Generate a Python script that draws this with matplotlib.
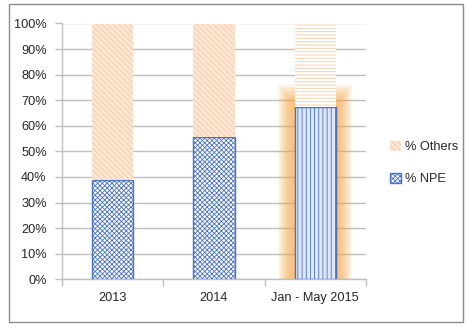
import matplotlib
matplotlib.use("Agg")
import matplotlib.pyplot as plt
from matplotlib.patches import Rectangle
import numpy as np

categories = ["2013", "2014", "Jan - May 2015"]
npe_share = [38.8, 55.6, 67.5]
others_share = [100 - v for v in npe_share]
yticks = [0, 10, 20, 30, 40, 50, 60, 70, 80, 90, 100]
ytick_labels = [f"{t}%" for t in yticks]

plt.rcParams["font.family"] = ["Liberation Sans Narrow", "Liberation Sans", "DejaVu Sans"]
plt.rcParams["hatch.linewidth"] = 0.6

fig = plt.figure(figsize=(4.72, 3.31), dpi=100)
ax = fig.add_axes([62 / 472, 1 - 279.3 / 331, (366 - 62) / 472, (279.3 - 23.5) / 331])

x = np.arange(len(categories))
width = 0.41
fs = 9.2

npe_blue = "#4a72c4"
peach_edge = "#f6c9a6"
peach_fill = "#fde6d4"
glow = "#f9a640"

# soft orange glow behind the highlighted period
hl = 2
for k in range(16):
    grow = (16 - k) * 0.02
    ax.bar(x[hl], npe_share[hl] + (16 - k) * 0.55, width=width + grow,
           color=glow, alpha=0.07, linewidth=0, zorder=1)

# NPE share
npe_hatches = ["xxxxxxx", "xxxxxxx", "||||"]
npe_fills = ["white", "white", "#dfe7f6"]
npe_bars = []
for i in range(len(categories)):
    b = ax.bar(x[i], npe_share[i], width=width, color=npe_fills[i],
               edgecolor=npe_blue, hatch=npe_hatches[i], linewidth=1.0, zorder=3)
    npe_bars.append(b)

# remaining share
oth_hatches = ["\\\\\\\\\\\\", "\\\\\\\\\\\\", "-----"]
oth_fills = [peach_fill, peach_fill, "white"]
oth_bars = []
for i in range(len(categories)):
    b = ax.bar(x[i], others_share[i], bottom=npe_share[i], width=width,
               color=oth_fills[i], edgecolor=peach_edge, hatch=oth_hatches[i],
               linewidth=0, zorder=3)
    oth_bars.append(b)

ax.set_xlim(-0.5, 2.5)
ax.set_ylim(0, 100)
ax.set_yticks(yticks)
ax.set_yticklabels(ytick_labels)
ax.set_xticks(x)
ax.set_xticklabels(categories)
ax.set_xticks([-0.5, 0.5, 1.5, 2.5], minor=True)

grid_c = "#bfbfbf"
ax.yaxis.grid(True, color=grid_c, linewidth=1.0, zorder=0)
ax.set_axisbelow(True)
for s in ["top", "right"]:
    ax.spines[s].set_visible(False)
for s in ["left", "bottom"]:
    ax.spines[s].set_color(grid_c)
    ax.spines[s].set_linewidth(1.0)

ax.tick_params(axis="y", length=5, width=1.0, color=grid_c, pad=6,
               labelsize=fs, labelcolor="#262626")
ax.tick_params(axis="x", which="major", length=0, pad=9,
               labelsize=fs, labelcolor="#262626")
ax.tick_params(axis="x", which="minor", length=5, width=1.0, color=grid_c)

leg = fig.legend([oth_bars[0], npe_bars[0]], ["% Others", "% NPE"],
                 loc="center left", bbox_to_anchor=(378 / 472, 1 - 163 / 331),
                 frameon=False, fontsize=fs, handlelength=0.9, handleheight=0.9,
                 handletextpad=0.3, labelspacing=1.5)
for t in leg.get_texts():
    t.set_color("#262626")

fig.patches.append(Rectangle((9 / 472, 1 - 322 / 331), (463 - 9) / 472, (322 - 4) / 331,
                             transform=fig.transFigure, fill=False,
                             edgecolor="#8c8c8c", linewidth=1.0))

fig.savefig("out.png", dpi=100)
